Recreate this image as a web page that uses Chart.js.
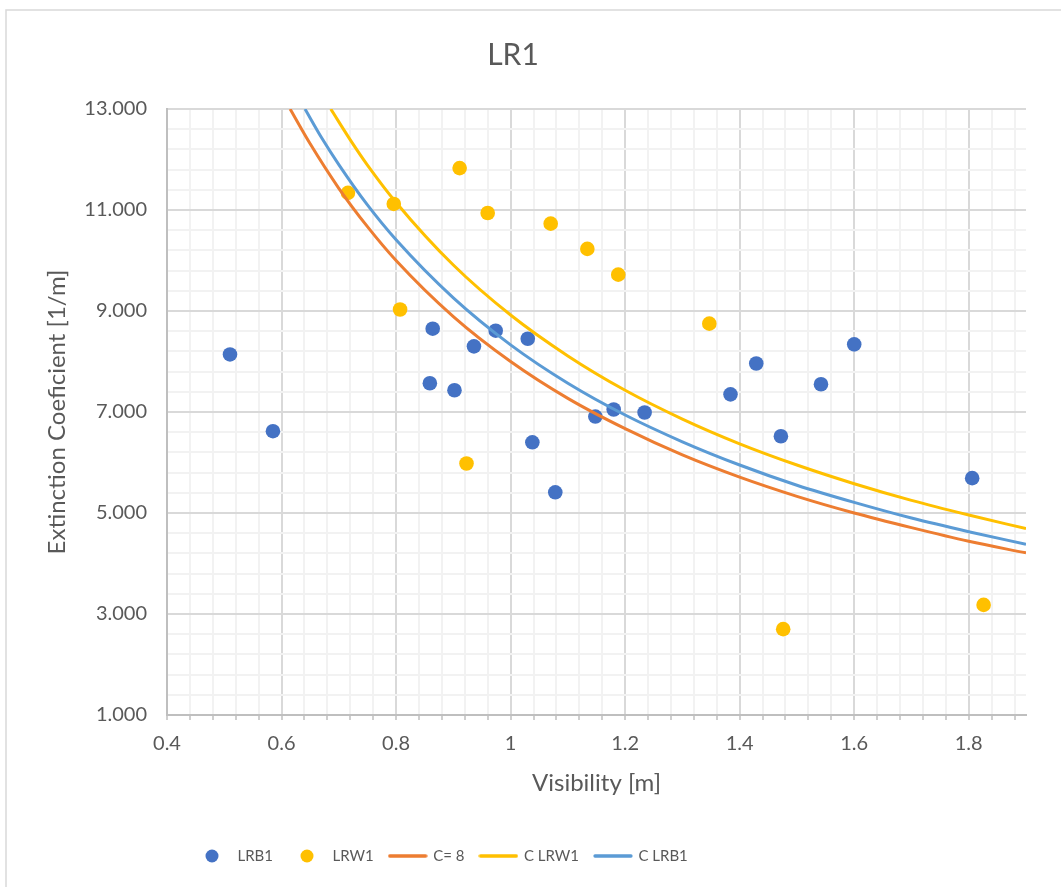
<!DOCTYPE html>
<html>
<head>
<meta charset="utf-8">
<script src="https://cdn.jsdelivr.net/npm/chart.js@4"></script>
<style>
html,body{margin:0;padding:0;background:#fff;}
#wrap{width:1061px;height:887px;}
</style>
</head>
<body>
<div id="wrap"><canvas id="c" width="1061" height="887"></canvas></div>
<script>
// ---- data ----
const chartTitle = 'LR1';
const xTitle = 'Visibility [m]';
const yTitle = 'Extinction Coeficient [1/m]';
const seriesNames = ['LRB1', 'LRW1', 'C= 8', 'C LRW1', 'C LRB1'];

const lrb1X = [0.51, 0.585, 0.864, 0.859, 0.902, 0.936, 0.974, 1.030, 1.038, 1.078, 1.148, 1.180, 1.234, 1.384, 1.429, 1.472, 1.542, 1.600, 1.806];
const lrb1Y = [8.14, 6.62, 8.65, 7.57, 7.43, 8.30, 8.61, 8.45, 6.40, 5.41, 6.91, 7.05, 6.99, 7.35, 7.96, 6.52, 7.55, 8.34, 5.69];

const lrw1X = [0.716, 0.796, 0.807, 0.911, 0.923, 0.960, 1.070, 1.134, 1.188, 1.347, 1.476, 1.826];
const lrw1Y = [11.34, 11.12, 9.03, 11.83, 5.98, 10.94, 10.73, 10.23, 9.72, 8.75, 2.70, 3.18];

const c8X = [0.615, 0.65, 0.7, 0.75, 0.8, 0.9, 1.0, 1.1, 1.2, 1.3, 1.4, 1.5, 1.6, 1.7, 1.8, 1.9];
const c8Y = [13.0, 12.31, 11.43, 10.67, 10.0, 8.89, 8.0, 7.27, 6.67, 6.15, 5.71, 5.33, 5.0, 4.71, 4.44, 4.21];

const cLrw1X = [0.686, 0.72, 0.75, 0.8, 0.9, 1.0, 1.1, 1.2, 1.3, 1.4, 1.5, 1.6, 1.7, 1.8, 1.9];
const cLrw1Y = [13.0, 12.39, 11.89, 11.15, 9.91, 8.92, 8.11, 7.43, 6.86, 6.37, 5.95, 5.58, 5.25, 4.96, 4.69];

const cLrb1X = [0.641, 0.67, 0.7, 0.75, 0.8, 0.9, 1.0, 1.1, 1.2, 1.3, 1.4, 1.5, 1.6, 1.7, 1.8, 1.9];
const cLrb1Y = [13.0, 12.43, 11.9, 11.1, 10.41, 9.26, 8.33, 7.57, 6.94, 6.41, 5.95, 5.55, 5.21, 4.90, 4.63, 4.38];

const xTickLabels = ['0.4', '0.6', '0.8', '1', '1.2', '1.4', '1.6', '1.8'];
const yTickLabels = ['1.000', '3.000', '5.000', '7.000', '9.000', '11.000', '13.000'];

// ---- helpers ----
const toPts = (xs, ys) => xs.map((x, i) => ({x: x, y: ys[i]}));
const TXT = '#595959';
const FONT = 'Lato';
const colors = ['#4472C4', '#FFC000', '#ED7D31', '#FFC000', '#5B9BD5'];

function dotMark(color) {
  const c = document.createElement('canvas');
  c.width = 16; c.height = 16;
  const g = c.getContext('2d');
  g.fillStyle = color; g.beginPath(); g.arc(8, 8, 6.5, 0, Math.PI * 2); g.fill();
  return c;
}
function lineMark(color) {
  const c = document.createElement('canvas');
  c.width = 40; c.height = 6;
  const g = c.getContext('2d');
  g.strokeStyle = color; g.lineWidth = 3.3; g.lineCap = 'round';
  g.beginPath(); g.moveTo(2, 3); g.lineTo(38, 3); g.stroke();
  return c;
}
const legendMarks = [dotMark(colors[0]), dotMark(colors[1]), lineMark(colors[2]), lineMark(colors[3]), lineMark(colors[4])];

// tick positions for gridlines (major + minor)
const xTickValues = [];
for (let i = 0; i <= 37; i++) xTickValues.push(Math.round((40 + i * 4)) / 100);
const yTickValues = [];
for (let i = 0; i <= 30; i++) yTickValues.push(Math.round((10 + i * 4)) / 10);

const bgPlugin = {
  id: 'bg',
  beforeDraw(chart) {
    const ctx = chart.ctx;
    ctx.save();
    ctx.fillStyle = '#fff';
    ctx.fillRect(0, 0, chart.width, chart.height);
    ctx.strokeStyle = '#D9D9D9';
    ctx.lineWidth = 1.5;
    ctx.strokeRect(6, 10, 1200, 1200);
    ctx.restore();
  }
};
const legendPos = {
  id: 'legendPos',
  afterLayout(chart) {
    if (chart.legend) {
      chart.legend.left = 178;
    }
  }
};

const ds = (label, data, color, line, order) => line ? {
  label, data, showLine: true, borderColor: color, backgroundColor: color,
  borderWidth: 3, pointRadius: 0, pointHoverRadius: 0, cubicInterpolationMode: 'monotone', order
} : {
  label, data, showLine: false, backgroundColor: color, borderColor: color,
  borderWidth: 0, pointRadius: 7.3, pointHoverRadius: 7.3, order
};

new Chart(document.getElementById('c'), {
  type: 'scatter',
  data: {
    datasets: [
      ds(seriesNames[0], toPts(lrb1X, lrb1Y), colors[0], false, 4),
      ds(seriesNames[1], toPts(lrw1X, lrw1Y), colors[1], false, 3),
      ds(seriesNames[2], toPts(c8X, c8Y), colors[2], true, 2),
      ds(seriesNames[3], toPts(cLrw1X, cLrw1Y), colors[3], true, 1),
      ds(seriesNames[4], toPts(cLrb1X, cLrb1Y), colors[4], true, 0)
    ]
  },
  options: {
    responsive: false,
    animation: false,
    events: [],
    layout: {padding: {left: 0, right: 35, top: 0, bottom: 13.5}},
    plugins: {
      tooltip: {enabled: false},
      title: {
        display: true, text: chartTitle, color: TXT,
        font: {family: FONT, size: 30, weight: 'normal'},
        padding: {top: 37, bottom: 36}
      },
      legend: {
        position: 'bottom', align: 'start',
        labels: {
          usePointStyle: true, pointStyleWidth: 36, boxHeight: 14,
          padding: 16, color: TXT,
          font: {family: FONT, size: 15},
          sort: (a, b) => a.datasetIndex - b.datasetIndex,
          generateLabels(chart) {
            const items = Chart.defaults.plugins.legend.labels.generateLabels(chart);
            items.forEach(it => { it.pointStyle = legendMarks[it.datasetIndex]; it.lineWidth = 0; });
            return items;
          }
        }
      }
    },
    scales: {
      x: {
        type: 'linear', min: 0.4, max: 1.9,
        afterBuildTicks(scale) { scale.ticks = xTickValues.map(v => ({value: v})); },
        ticks: {
          autoSkip: false, maxRotation: 0, padding: 12, color: TXT,
          font: {family: FONT, size: 20},
          callback(v, i) { return i % 5 === 0 ? xTickLabels[i / 5] : ''; }
        },
        grid: {
          color: ctx => (ctx.index % 5 === 0 ? '#D9D9D9' : '#F2F2F2'),
          lineWidth: 2, tickLength: 5, tickColor: '#BFBFBF', tickWidth: 1.5
        },
        border: {display: true, color: '#BFBFBF', width: 2},
        title: {
          display: true, text: xTitle, color: TXT,
          font: {family: FONT, size: 24}, padding: {top: 0.6, bottom: 35.1}
        }
      },
      y: {
        type: 'linear', min: 1, max: 13,
        afterBuildTicks(scale) { scale.ticks = yTickValues.map(v => ({value: v})); },
        afterFit(scale) { scale.width = 167; },
        ticks: {
          autoSkip: false, padding: 20, color: TXT,
          font: {family: FONT, size: 20},
          callback(v, i) { return i % 5 === 0 ? yTickLabels[i / 5] : ''; }
        },
        grid: {
          color: ctx => (ctx.index % 5 === 0 ? '#D9D9D9' : '#F2F2F2'),
          lineWidth: 2, drawTicks: false
        },
        border: {display: true, color: '#BFBFBF', width: 2},
        title: {
          display: true, text: yTitle, color: TXT,
          font: {family: FONT, size: 24}, padding: {top: 42.6, bottom: 0}
        }
      }
    }
  },
  plugins: [bgPlugin, legendPos]
});
</script>
</body>
</html>
